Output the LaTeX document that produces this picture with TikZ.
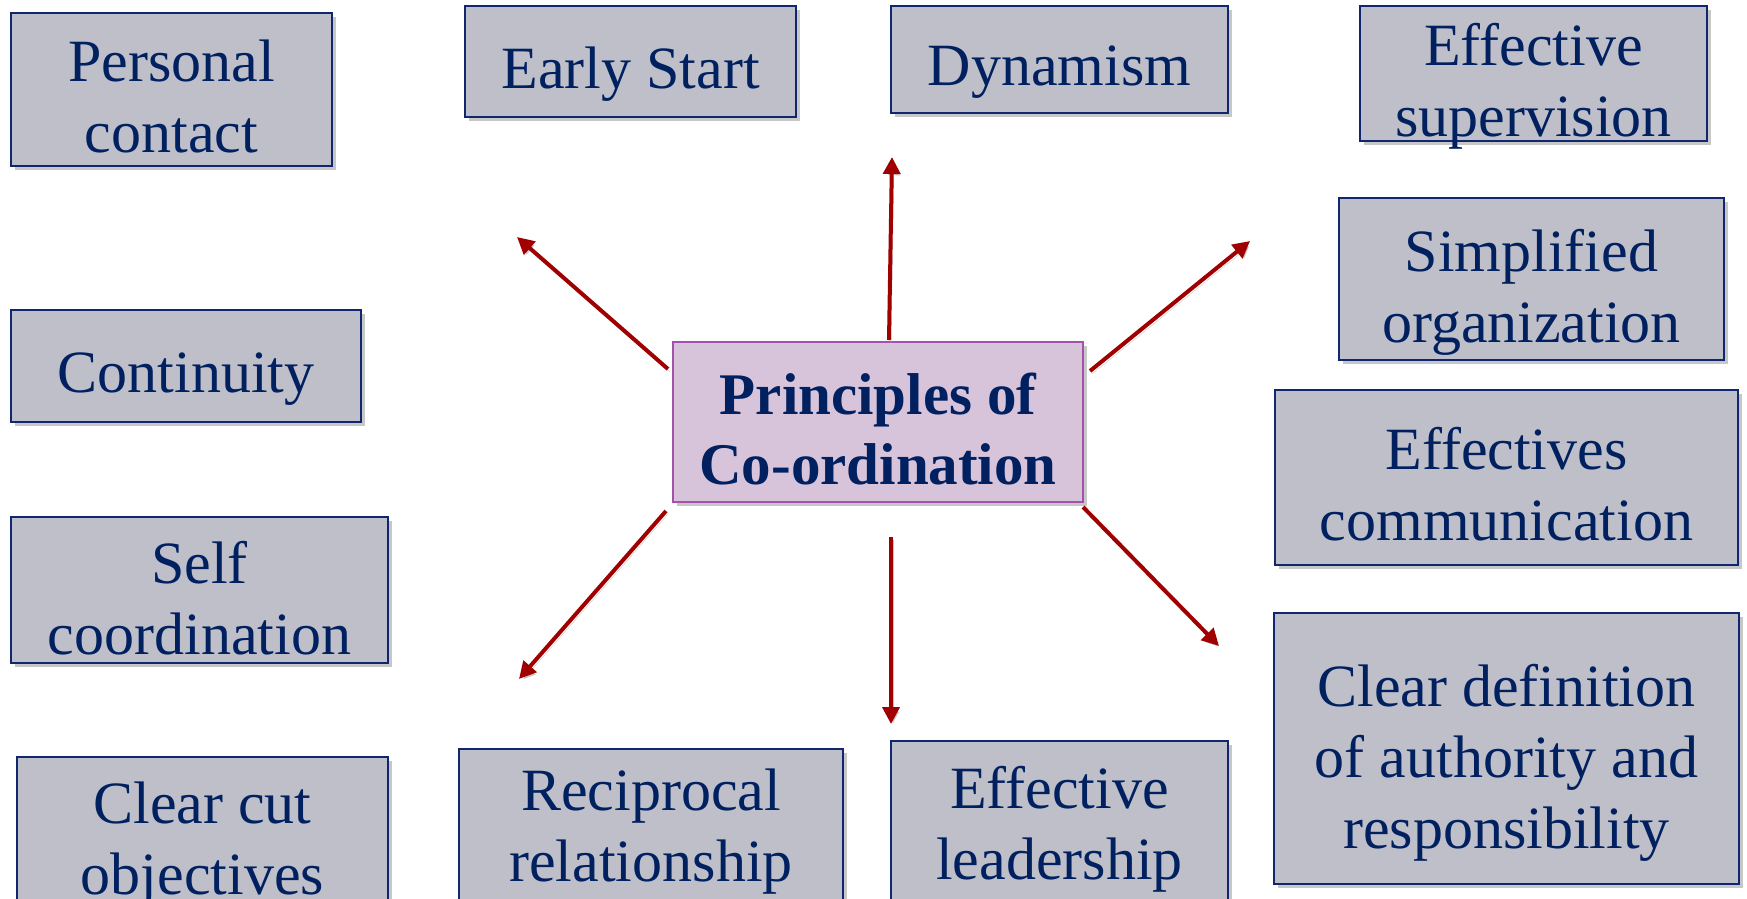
\documentclass[tikz,border=0pt]{standalone}
\usepackage{fontspec}
\setmainfont{Liberation Serif}
\usetikzlibrary{arrows.meta,shadows}
\definecolor{navytext}{RGB}{0,32,96}
\definecolor{boxfill}{RGB}{190,191,201}
\definecolor{boxline}{RGB}{16,38,110}
\definecolor{hubfill}{RGB}{216,196,218}
\definecolor{hubline}{RGB}{163,81,170}
\definecolor{arrowred}{RGB}{160,0,0}
\tikzset{
  pbox/.style={draw=boxline, line width=2.5pt, fill=boxfill, inner sep=0pt,
    drop shadow={shadow xshift=4pt, shadow yshift=-4pt, fill=black, opacity=.22}},
  ptext/.style={text=navytext, align=center, inner sep=0pt,
    font=\fontsize{60}{71}\selectfont},
  hubbox/.style={draw=hubline, line width=2pt, fill=hubfill, inner sep=0pt,
    drop shadow={shadow xshift=4pt, shadow yshift=-4pt, fill=black, opacity=.22}},
  hubtext/.style={text=navytext, align=center, inner sep=0pt,
    font=\fontsize{59}{70}\selectfont\bfseries},
  redarrow/.style={draw=arrowred, line width=4pt, -{Triangle[length=17pt,width=17pt]},
    preaction={draw=black!22, transform canvas={shift={(2pt,-3pt)}}}}
}

\begin{document}
\begin{tikzpicture}[x=1pt,y=-1pt]
\useasboundingbox (0,0) rectangle (1747,898);
% centre
\node[hubbox, minimum width=410pt, minimum height=160pt,
  label={[hubtext,yshift=-7pt]center:{Principles of\\Co-ordination}}] (hub) at (878,422) {};
% left column
\node[pbox, minimum width=321pt, minimum height=153pt,
  label={[ptext,yshift=-7pt]center:{Personal\\contact}}] (pcontact) at (171.5,89.5) {};
\node[pbox, minimum width=350pt, minimum height=112pt,
  label={[ptext,yshift=-13pt]center:Continuity}] (contin) at (186,366) {};
\node[pbox, minimum width=377pt, minimum height=146pt,
  label={[ptext,yshift=-8pt]center:{Self\\coordination}}] (selfco) at (199.5,590) {};
\node[pbox, minimum width=371pt, minimum height=168pt,
  label={[ptext,yshift=-4pt]center:{Clear cut\\objectives}}] (ccobj) at (202.5,841) {};
% top row
\node[pbox, minimum width=331pt, minimum height=111pt,
  label={[ptext,yshift=-13pt]center:Early Start}] (estart) at (630.5,61.5) {};
\node[pbox, minimum width=337pt, minimum height=107pt,
  label={[ptext,yshift=-13pt]center:Dynamism}] (dynam) at (1059.5,59.5) {};
% bottom row
\node[pbox, minimum width=384pt, minimum height=162pt,
  label={[ptext,yshift=-2pt]center:{Reciprocal\\relationship}}] (recip) at (651,830) {};
\node[pbox, minimum width=337pt, minimum height=172pt,
  label={[ptext,yshift=-2pt]center:{Effective\\leadership}}] (eleader) at (1059.5,827) {};
% right column
\node[pbox, minimum width=347pt, minimum height=135pt,
  label={[ptext,yshift=-13pt]center:{Effective\\supervision}}] (esuper) at (1533.5,73.5) {};
\node[pbox, minimum width=385pt, minimum height=162pt,
  label={[ptext,yshift=-13pt]center:{Simplified\\organization}}] (simpl) at (1531.5,279) {};
\node[pbox, minimum width=463pt, minimum height=175pt,
  label={[ptext,yshift=-7pt]center:{Effectives\\communication}}] (ecomm) at (1506.5,477.5) {};
\node[pbox, minimum width=465pt, minimum height=271pt,
  label={[ptext,yshift=-14pt]center:{Clear definition\\of authority and\\responsibility}}] (cdef) at (1506.5,748.5) {};
% arrows
\coordinate (nwt) at (668,369); \coordinate (nwh) at (517,237);
\coordinate (nt) at (889,340);  \coordinate (nh) at (892,157);
\coordinate (net) at (1090,371); \coordinate (neh) at (1250,241);
\coordinate (set) at (1083,507); \coordinate (seh) at (1219,646);
\coordinate (st) at (891,537);  \coordinate (sh) at (891,724);
\coordinate (swt) at (666,511); \coordinate (swh) at (519,679);
\draw[redarrow] (nwt) -- (nwh);
\draw[redarrow] (nt) -- (nh);
\draw[redarrow] (net) -- (neh);
\draw[redarrow] (set) -- (seh);
\draw[redarrow] (st) -- (sh);
\draw[redarrow] (swt) -- (swh);
\end{tikzpicture}
\end{document}
